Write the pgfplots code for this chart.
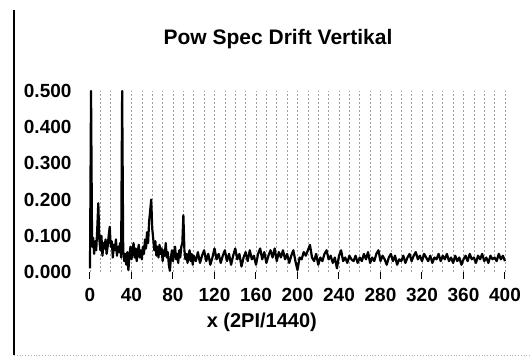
\documentclass[border=0pt]{standalone}
\usepackage{fontspec}
\setmainfont{Liberation Sans}
\usepackage{pgfplots}
\pgfplotsset{compat=1.18}
\begin{document}
\begin{tikzpicture}
\begin{axis}[
  scale only axis, width=415pt, height=181pt,
  xmin=0, xmax=400, ymin=0, ymax=0.5,
  axis line style={draw=none},
  xtick={0,40,...,400},
  xticklabels={0,40,80,120,160,200,240,280,320,360,400},
  ytick={0,0.1,0.2,0.3,0.4,0.5},
  yticklabels={0.000,0.100,0.200,0.300,0.400,0.500},
  xtick pos=bottom, ytick pos=left,
  tick align=outside, major tick length=7pt,
  xtick style={black, line width=1pt},
  ytick style={draw=none},
  minor x tick num=3,
  minor tick length=0pt,
  xmajorgrids, xminorgrids,
  major grid style={gray!75, dash pattern=on 1.5pt off 2.5pt, line width=0.6pt},
  minor grid style={gray!75, dash pattern=on 1.5pt off 2.5pt, line width=0.6pt},
  ticklabel style={font=\bfseries\fontsize{19}{21}\selectfont},
  xticklabel style={yshift=-6pt},
  yticklabel style={xshift=-8pt},
  title={Pow Spec Drift Vertikal},
  title style={font=\bfseries\fontsize{21}{23}\selectfont, at={(axis description cs:0.453,1)}, anchor=center, yshift=46pt},
  xlabel={x (2PI/1440)},
  xlabel style={font=\bfseries\fontsize{20}{22}\selectfont, at={(axis description cs:0.414,0)}, anchor=center, yshift=-50pt},
  clip=false,
]
\addplot[black, line width=2.2pt, line join=round] table {
x y
0 0.010
1 0.500
2 0.070
3 0.095
4 0.050
5 0.085
6 0.060
7 0.120
8 0.190
9 0.090
10 0.060
11 0.100
12 0.045
13 0.080
14 0.065
15 0.090
16 0.050
17 0.070
18 0.100
19 0.125
20 0.070
21 0.085
22 0.040
23 0.075
24 0.060
25 0.090
26 0.045
27 0.070
28 0.055
29 0.080
30 0.040
31 0.500
32 0.060
33 0.030
34 0.050
35 0.020
36 0.055
37 0.005
38 0.045
39 0.070
40 0.035
41 0.060
42 0.080
43 0.040
44 0.065
45 0.030
46 0.055
47 0.075
48 0.040
49 0.060
50 0.035
51 0.070
52 0.050
53 0.090
54 0.065
55 0.110
56 0.080
57 0.140
58 0.170
59 0.200
60 0.120
61 0.090
62 0.060
63 0.085
64 0.045
65 0.070
66 0.040
67 0.075
68 0.050
69 0.065
70 0.030
71 0.060
72 0.045
73 0.080
74 0.040
75 0.055
76 0.020
77 0.003
78 0.040
79 0.060
80 0.030
81 0.055
82 0.070
83 0.035
84 0.050
85 0.025
86 0.060
87 0.040
88 0.070
89 0.080
90 0.157
91 0.060
92 0.035
93 0.050
94 0.025
95 0.045
96 0.060
97 0.030
98 0.050
99 0.020
100 0.045
102 0.030
104 0.055
106 0.025
108 0.045
110 0.060
112 0.030
114 0.050
116 0.020
118 0.040
120 0.065
122 0.035
124 0.050
126 0.025
128 0.045
130 0.060
132 0.030
134 0.050
136 0.020
138 0.045
140 0.065
142 0.035
144 0.050
146 0.015
148 0.040
150 0.055
152 0.030
154 0.060
156 0.035
158 0.045
160 0.020
162 0.050
164 0.065
166 0.035
168 0.055
170 0.025
172 0.045
174 0.060
176 0.040
178 0.065
180 0.030
182 0.055
184 0.040
186 0.060
188 0.035
190 0.050
192 0.025
194 0.045
196 0.060
198 0.030
200 0.005
202 0.040
204 0.035
206 0.055
208 0.045
210 0.060
212 0.075
214 0.040
216 0.030
218 0.050
220 0.020
222 0.040
224 0.030
226 0.050
228 0.060
230 0.035
232 0.045
234 0.025
236 0.040
238 0.010
240 0.045
242 0.060
244 0.030
246 0.040
248 0.025
250 0.045
252 0.035
254 0.030
256 0.045
258 0.025
260 0.040
262 0.030
264 0.050
266 0.035
268 0.055
270 0.025
272 0.040
274 0.030
276 0.050
278 0.060
280 0.030
282 0.045
284 0.035
286 0.020
288 0.040
290 0.050
292 0.030
294 0.045
296 0.020
298 0.035
300 0.030
302 0.045
304 0.025
306 0.040
308 0.050
310 0.030
312 0.045
314 0.055
316 0.035
318 0.045
320 0.030
322 0.050
324 0.040
326 0.030
328 0.045
330 0.025
332 0.040
334 0.035
336 0.050
338 0.030
340 0.045
342 0.035
344 0.050
346 0.030
348 0.040
350 0.025
352 0.045
354 0.030
356 0.040
358 0.020
360 0.035
362 0.045
364 0.030
366 0.050
368 0.035
370 0.040
372 0.025
374 0.045
376 0.035
378 0.050
380 0.030
382 0.040
384 0.025
386 0.045
388 0.035
390 0.040
392 0.030
394 0.050
396 0.035
398 0.045
400 0.030
};
\end{axis}
\draw[black, line width=1.4pt] ([shift={(-76pt,-83pt)}]current axis.south west) -- ++(0,345pt);
\draw[gray!60, dotted, line width=0.8pt] ([shift={(-76pt,-83pt)}]current axis.south west) -- ++(516pt,0);
\path[use as bounding box] ([shift={(-90pt,-86pt)}]current axis.south west) rectangle ++(531pt,358pt);
\end{tikzpicture}
\end{document}
